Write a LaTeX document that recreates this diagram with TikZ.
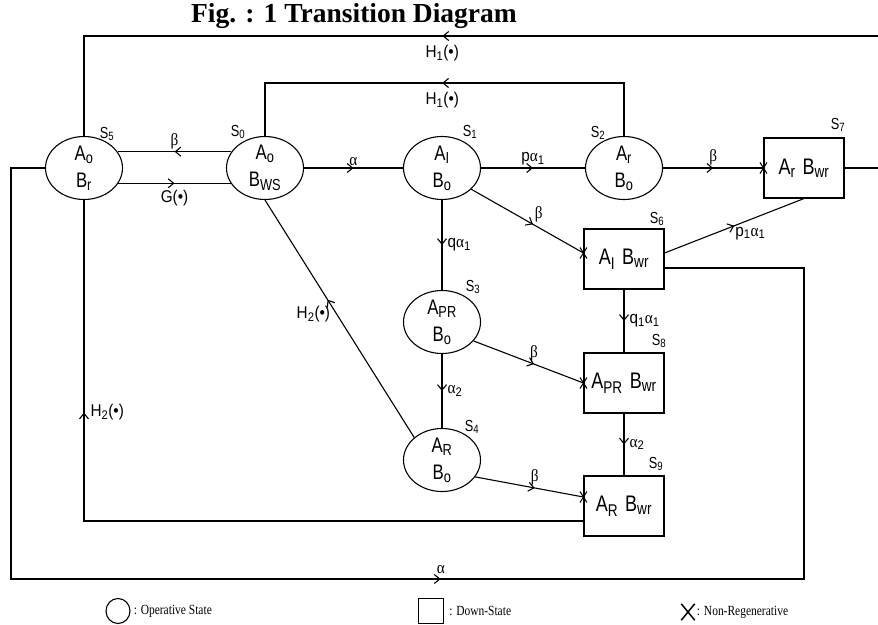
\documentclass[tikz,border=0pt]{standalone}
\usepackage{fontspec}
\setmainfont{Liberation Sans}[FakeStretch=0.8]
\newfontfamily\labfont{Liberation Sans}[FakeStretch=0.9]
\newfontfamily\grkfont{Liberation Serif}[FakeStretch=0.9]
\newfontfamily\legfont{Liberation Serif}[FakeStretch=0.82]
\newfontfamily\ttlfont{Liberation Serif}
\usetikzlibrary{arrows.meta, positioning, shapes.geometric, shapes.misc, decorations.markings}

% bigger subscripts for the sizes used below
\DeclareMathSizes{21}{21}{16}{12}
\DeclareMathSizes{22.5}{22.5}{17}{13}
\DeclareMathSizes{17}{17}{12.5}{10}
\DeclareMathSizes{16}{16}{12}{9}

\newcommand{\ralpha}{{\grkfont α}}
\newcommand{\rbeta}{{\grkfont β}}

\begin{document}
\begin{tikzpicture}[
    x=1pt, y=-1pt,
    opst/.style={ellipse, draw, line width=1.1pt,
        minimum width=77pt, minimum height=63pt,
        inner xsep=0pt, inner ysep=-12pt, align=center,
        font=\fontsize{21}{27}\selectfont},
    downst/.style={rectangle, draw, line width=1.1pt,
        minimum width=80pt, minimum height=60pt, inner sep=0pt,
        font=\fontsize{22.5}{24}\selectfont},
    slab/.style={font=\fontsize{16}{18}\selectfont, inner sep=0pt},
    elab/.style={font=\labfont\fontsize{17}{19}\selectfont, inner sep=2pt},
    conn/.style={line width=1.1pt},
    midarr/.style={postaction={decorate}, decoration={markings,
        mark=at position #1 with {\arrow{Straight Barb[length=5.5pt, width=9pt, line width=1.1pt]}}}},
    midarr/.default=0.5,
    xmk/.style={cross out, draw, line width=1pt,
        minimum width=6pt, minimum height=10pt, inner sep=0pt},
    leg/.style={font=\legfont\fontsize{14}{16}\selectfont, inner sep=1pt}
]
\useasboundingbox (0,0) rectangle (878,624);

% Title
\node[font=\ttlfont\bfseries\fontsize{27.5}{30}\selectfont] (ttl) at (354,16) {Fig. : 1 Transition Diagram};

% Operative states
\node[opst] (s5) at (84,168)  {A\textsubscript{o}\\B\textsubscript{r}};
\node[opst] (s0) at (265,168) {A\textsubscript{o}\\B\textsubscript{WS}};
\node[opst] (s1) at (442,168) {A\textsubscript{I}\\B\textsubscript{o}};
\node[opst] (s2) at (624,168) {A\textsubscript{r}\\B\textsubscript{o}};
\node[opst] (s3) at (442,322) {A\textsubscript{PR}\\B\textsubscript{o}};
\node[opst] (s4) at (442,460) {A\textsubscript{R}\\B\textsubscript{o}};

% Down-states
\node[downst] (s7) at (804,168) {A\textsubscript{r}\hspace{7pt}B\textsubscript{wr}};
\node[downst] (s6) at (624,259) {A\textsubscript{I}\hspace{7pt}B\textsubscript{wr}};
\node[downst] (s8) at (624,383) {A\textsubscript{PR}\hspace{7pt}B\textsubscript{wr}};
\node[downst] (s9) at (624,506) {A\textsubscript{R}\hspace{7pt}B\textsubscript{wr}};

% State numbers
\node[slab] (l5) at (107,134) {S\textsubscript{5}};
\node[slab] (l0) at (238,132) {S\textsubscript{0}};
\node[slab] (l1) at (470,132) {S\textsubscript{1}};
\node[slab] (l2) at (598,133) {S\textsubscript{2}};
\node[slab] (l7) at (838,125) {S\textsubscript{7}};
\node[slab] (l6) at (657,219) {S\textsubscript{6}};
\node[slab] (l3) at (473,287) {S\textsubscript{3}};
\node[slab] (l8) at (659,341) {S\textsubscript{8}};
\node[slab] (l4) at (472,427) {S\textsubscript{4}};
\node[slab] (l9) at (656,464) {S\textsubscript{9}};

% Corners of the long connectors
\coordinate (rtop) at (880,36);
\coordinate (rin) at (265,83);
\coordinate (bl) at (11,579);
\coordinate (br) at (804,579);

% Transitions
\draw[conn, midarr] (s0.154) -- node[elab, above]{\rbeta} (s5.26);
\draw[conn, midarr] (s5.-24) -- node[elab, below=4pt]{G(•)} (s0.-156);
\draw[conn, midarr] (s0) -- node[elab, above]{\ralpha} (s1);
\draw[conn, midarr] (s1) -- node[elab, above]{p\ralpha\textsubscript{1}} (s2);
\draw[conn, midarr] (s2) -- node[elab, above]{\rbeta} (s7);
\draw[conn, midarr=0.55] (s1.-36) -- node[elab, pos=0.55, above right=-1pt]{\rbeta} ([yshift=6pt]s6.west);
\draw[conn, midarr] (s1) -- node[elab, right=3pt]{q\ralpha\textsubscript{1}} (s3);
\draw[conn, midarr] (s3) -- node[elab, right=3pt]{\ralpha\textsubscript{2}} (s4);
\draw[conn, midarr=0.55] (s3.-31) -- node[elab, pos=0.55, above]{\rbeta} (s8.west);
\draw[conn, midarr=0.55] (s4.-27) -- node[elab, pos=0.55, above]{\rbeta} ([yshift=9pt]s9.west);
\draw[conn, midarr] (s6) -- node[elab, right=3pt]{q\textsubscript{1}\ralpha\textsubscript{1}} (s8);
\draw[conn, midarr] (s8) -- node[elab, right=3pt]{\ralpha\textsubscript{2}} (s9);
\draw[conn, midarr] ([yshift=6pt]s6.east) -- node[elab, below right=-2pt]{p\textsubscript{1}\ralpha\textsubscript{1}} (s7.south);
\draw[conn, midarr=0.58] (s4.141) -- node[elab, pos=0.52, left=4pt]{H\textsubscript{2}(•)} (s0.south);
\draw[conn, midarr=0.569] (s7.east) -| (rtop) -| node[elab, pos=0.275, below=7pt]{H\textsubscript{1}(•)} (s5.north);
\draw[conn, midarr=0.505] (s2.north) |- node[elab, pos=0.753, below=7pt]{H\textsubscript{1}(•)} (rin) -- (s0.north);
\draw[conn, midarr=0.741] ([yshift=-15pt]s9.west) -| node[elab, pos=0.67, right=4pt]{H\textsubscript{2}(•)} (s5.south);
\draw[conn, midarr=0.518] (s5.west) -| (bl) -- node[elab, pos=0.542, above=3pt]{\ralpha} (br) |- ([yshift=-9pt]s6.east);

% Non-regenerative marks
\node[xmk] (x7) at (s7.west) {};
\node[xmk] (x6) at ([yshift=6pt]s6.west) {};
\node[xmk] (x8) at (s8.west) {};
\node[xmk] (x9) at ([yshift=9pt]s9.west) {};

% Legend
\node[ellipse, draw, line width=1.1pt, minimum width=24pt, minimum height=25pt, inner sep=0pt] (legop) at (118,611) {};
\node[leg, right=2pt of legop] (legoptx) {: Operative State};
\node[rectangle, draw, line width=1.1pt, minimum width=25pt, minimum height=25pt, inner sep=0pt] (legdn) at (431,611) {};
\node[leg, right=4pt of legdn] (legdntx) {: Down-State};
\node[xmk, line width=1.5pt, minimum width=12pt, minimum height=15pt] (legx) at (688,612) {};
\node[leg, right=1pt of legx] (legxtx) {: Non-Regenerative};

\end{tikzpicture}
\end{document}
